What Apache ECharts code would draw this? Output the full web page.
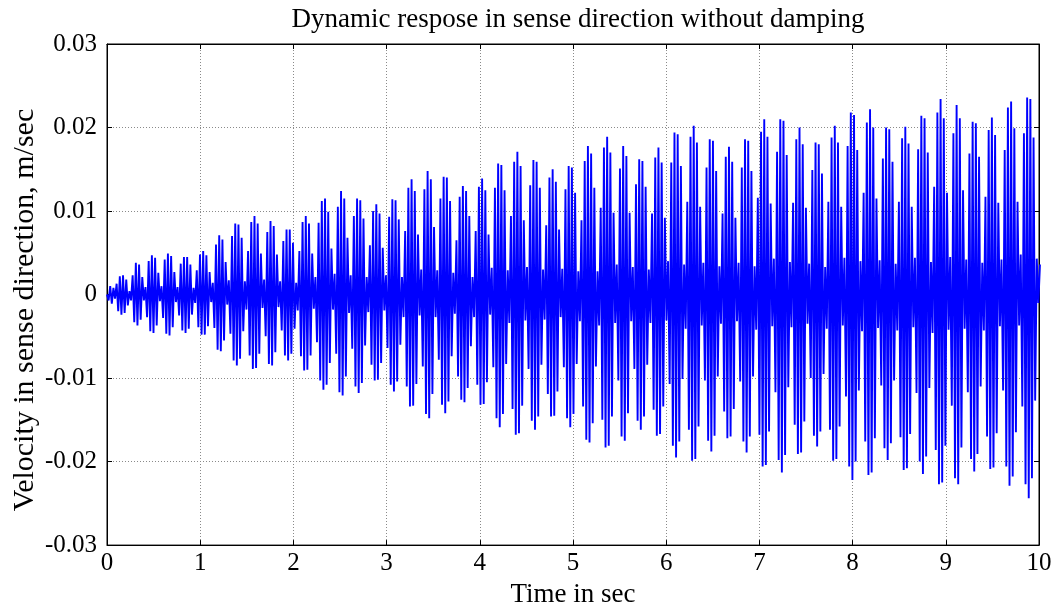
<!DOCTYPE html>
<html>
<head>
<meta charset="utf-8">
<title>Dynamic respose in sense direction without damping</title>
<script src="https://cdn.jsdelivr.net/npm/echarts@6/dist/echarts.min.js"></script>
<style>
  html, body { margin: 0; padding: 0; background: #fff; }
  #chart { width: 1058px; height: 613px; }
</style>
</head>
<body>
<div id="chart"></div>
<script>
// Sense-axis velocity samples, in units of 1e-4 m/s, one row per beat cluster.
const sampleStep = 0.0172; // seconds between samples
const velocity = [
  0, -7, 10, -11, 8,
  -5, 13, -20, 22, -24, 23, -22, 18, -13, 4,
  -7, 23, -33, 38, -37, 36, -30, 21, -7,
  9, -27, 40, -44, 47, -46, 44, -37, 26, -8,
  10, -28, 42, -47, 49, -49, 46, -39, 27, -9,
  9, -25, 37, -43, 45, -46, 45, -41, 36, -24, 8,
  -10, 29, -39, 48, -48, 52, -48, 47, -38, 27, -9,
  14, -40, 60, -66, 71, -68, 66, -55, 39, -12,
  17, -47, 70, -79, 85, -85, 84, -77, 68, -44, 16,
  -18, 52, -73, 87, -89, 94, -88, 85, -71, 49, -16,
  18, -50, 75, -83, 88, -85, 82, -69, 48, -15,
  16, -43, 64, -73, 78, -79, 78, -71, 62, -41, 14,
  -19, 52, -74, 87, -91, 94, -90, 85, -73, 49, -17,
  21, -57, 86, -103, 112, -114, 115, -108, 99, -82, 55, -18,
  25, -71, 105, -117, 124, -121, 115, -98, 68, -22,
  23, -65, 94, -110, 115, -118, 113, -106, 91, -61, 21,
  -21, 59, -84, 100, -103, 108, -102, 97, -82, 56, -19,
  23, -64, 93, -108, 114, -116, 113, -104, 90, -60, 21,
  -27, 76, -110, 128, -134, 138, -133, 124, -107, 72, -25,
  30, -86, 126, -143, 148, -148, 138, -119, 81, -27,
  29, -78, 115, -132, 141, -142, 140, -128, 112, -74, 26,
  -23, 65, -98, 117, -126, 130, -129, 124, -112, 94, -62, 21,
  -27, 76, -108, 129, -132, 139, -131, 125, -105, 72, -24,
  32, -87, 128, -148, 157, -159, 155, -143, 125, -83, 29,
  -34, 94, -137, 159, -168, 171, -166, 154, -133, 89, -31,
  33, -89, 131, -151, 161, -162, 159, -146, 128, -84, 30,
  -30, 83, -119, 140, -146, 150, -145, 135, -116, 78, -27,
  31, -87, 126, -148, 154, -159, 152, -143, 122, -83, 28,
  -32, 89, -134, 160, -174, 178, -177, 169, -154, 128, -86, 28,
  -37, 104, -150, 176, -183, 189, -181, 170, -146, 98, -34,
  36, -103, 151, -170, 178, -175, 166, -142, 98, -32,
  33, -89, 132, -151, 162, -162, 160, -146, 129, -84, 30,
  -34, 97, -138, 164, -169, 176, -167, 158, -134, 92, -31,
  40, -107, 158, -181, 194, -195, 192, -176, 154, -101, 36,
  -41, 111, -162, 189, -199, 202, -197, 182, -158, 105, -37,
  38, -103, 152, -175, 186, -188, 184, -169, 148, -98, 34,
  -35, 97, -140, 165, -172, 177, -170, 159, -137, 92, -32,
  38, -104, 152, -176, 186, -189, 184, -170, 148, -98, 34,
  -42, 116, -168, 195, -206, 210, -204, 189, -164, 109, -38,
  43, -117, 171, -198, 210, -213, 208, -192, 167, -111, 39,
  -39, 110, -156, 186, -191, 200, -189, 180, -152, 104, -35,
  37, -100, 149, -169, 182, -182, 180, -164, 145, -95, 33,
  -41, 111, -162, 188, -199, 202, -197, 182, -158, 105, -37,
  44, -122, 178, -206, 218, -222, 215, -200, 173, -115, 40,
  -44, 122, -176, 206, -216, 222, -213, 200, -172, 115, -40,
  41, -109, 163, -184, 200, -198, 198, -178, 159, -103, 37,
  -43, 111, -171, 187, -210, 201, -208, 181, -167, 105, -39,
  44, -118, 174, -200, 214, -215, 211, -194, 170, -112, 39,
  -46, 129, -186, 218, -227, 234, -225, 211, -181, 122, -42,
  45, -133, 193, -220, 227, -227, 211, -183, 125, -41,
  42, -117, 169, -197, 207, -212, 205, -191, 165, -110, 38,
  -43, 117, -170, 197, -209, 212, -207, 191, -166, 110, -38,
  42, -115, 173, -206, 224, -229, 231, -218, 199, -165, 111, -37,
  48, -134, 193, -227, 236, -244, 234, -220, 188, -127, 43,
  -10, 36
];
const velocityUnit = 1e-4; // m/s per stored unit

// Axis ticks
const timeTicks = [0, 1, 2, 3, 4, 5, 6, 7, 8, 9, 10];
const velocityTicks = [-0.03, -0.02, -0.01, 0, 0.01, 0.02, 0.03];

const titleText = 'Dynamic respose in sense direction without damping';
const xName = 'Time in sec';
const yName = 'Velocity in sense direction, m/sec';

const serif = '"Liberation Serif", "Times New Roman", "DejaVu Serif", serif';
const points = velocity.map((v, i) => [i * sampleStep, v * velocityUnit]);

const xMin = timeTicks[0], xMax = timeTicks[timeTicks.length - 1], xStep = timeTicks[1] - timeTicks[0];
const yMin = velocityTicks[0], yMax = velocityTicks[velocityTicks.length - 1], yStep = 0.01;

const fmtVel = v => {
  const r = Math.round(v * 100) / 100;
  return r === 0 ? '0' : String(r);
};

const gridLine = { show: true, lineStyle: { color: '#8a8a8a', width: 1, type: [1, 2] } };
const tickStyle = { show: true, inside: true, length: 5, lineStyle: { color: '#000', width: 1 } };
const axisLine = { show: true, onZero: false, lineStyle: { color: '#000', width: 1 } };

const chart = echarts.init(document.getElementById('chart'), null, { renderer: 'canvas' });
chart.setOption({
  animation: false,
  backgroundColor: '#fff',
  title: {
    text: titleText,
    left: 573,
    top: 1,
    textAlign: 'center',
    textStyle: { fontFamily: serif, fontSize: 27, fontWeight: 'normal', color: '#000' }
  },
  grid: { left: 107, right: 19, top: 44, bottom: 66, show: true, borderColor: '#000', borderWidth: 1 },
  xAxis: [
    {
      type: 'value', min: xMin, max: xMax, interval: xStep,
      axisLine, axisTick: tickStyle, splitLine: gridLine,
      axisLabel: { fontFamily: serif, fontSize: 25, color: '#000', margin: 6 },
      name: xName, nameLocation: 'middle', nameGap: 35,
      nameTextStyle: { fontFamily: serif, fontSize: 27, color: '#000' }
    },
    {
      type: 'value', position: 'top', min: xMin, max: xMax, interval: xStep,
      axisLine, axisTick: tickStyle, splitLine: { show: false }, axisLabel: { show: false }
    }
  ],
  yAxis: [
    {
      type: 'value', min: yMin, max: yMax, interval: yStep,
      axisLine, axisTick: tickStyle, splitLine: gridLine,
      axisLabel: { fontFamily: serif, fontSize: 25, color: '#000', margin: 10, formatter: fmtVel }
    },
    {
      type: 'value', position: 'right', min: yMin, max: yMax, interval: yStep,
      axisLine, axisTick: tickStyle, splitLine: { show: false }, axisLabel: { show: false }
    }
  ],
  graphic: [
    {
      type: 'text',
      x: 25,
      y: 310,
      rotation: Math.PI / 2,
      style: {
        text: yName,
        font: '30px ' + serif,
        fill: '#000',
        align: 'center',
        verticalAlign: 'middle'
      }
    }
  ],
  series: [
    {
      type: 'line',
      data: points,
      showSymbol: false,
      symbol: 'none',
      sampling: false,
      clip: true,
      lineStyle: { color: '#0000ff', width: 1.9 },
      z: 3
    }
  ]
});
</script>
</body>
</html>
